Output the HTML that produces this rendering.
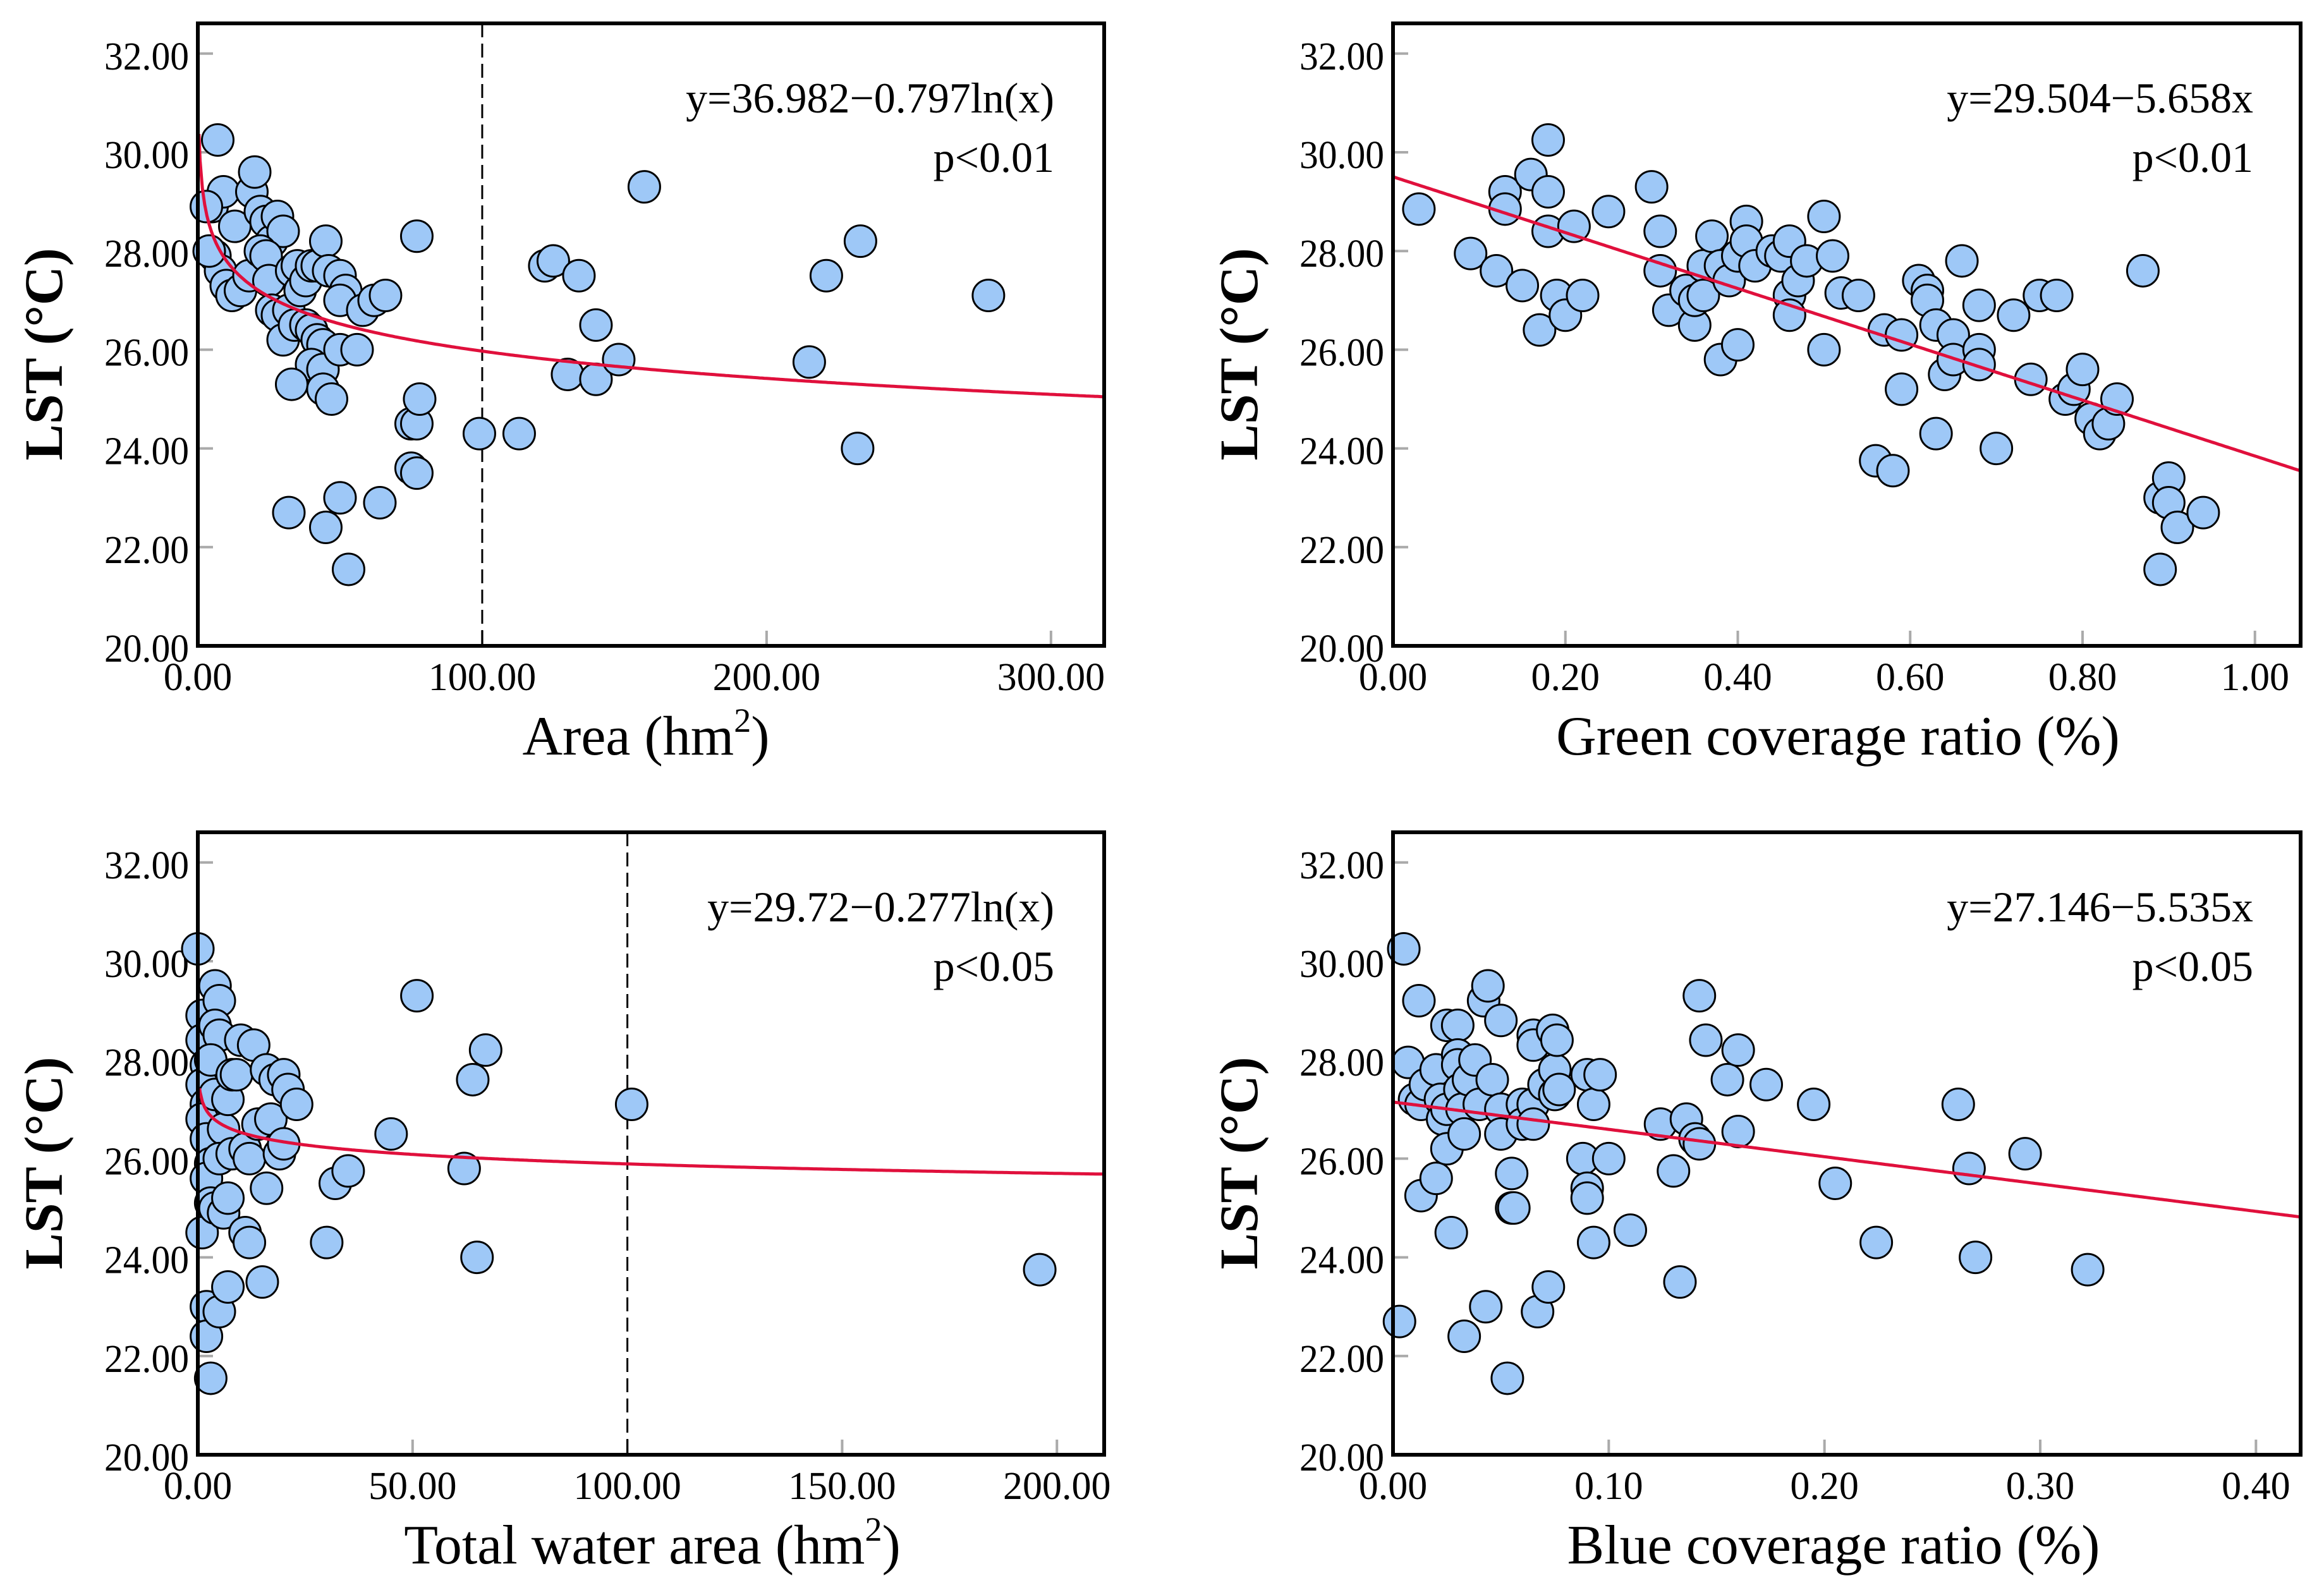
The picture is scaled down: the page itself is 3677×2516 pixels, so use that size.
<!DOCTYPE html>
<html><head><meta charset="utf-8">
<style>
html,body{margin:0;padding:0;background:#fff;}
svg{display:block;font-family:"Liberation Serif",serif;}
</style></head>
<body>
<svg id="fig" width="3677" height="2516" viewBox="0 0 3677 2516" xmlns="http://www.w3.org/2000/svg"></svg>
<script>
// ---- Data ----
const yTicks = [20,22,24,26,28,30,32];
const p1Ticks = [0,100,200,300];
const p2Ticks = [0,0.2,0.4,0.6,0.8,1.0];
const p3Ticks = [0,50,100,150,200];
const p4Ticks = [0,0.1,0.2,0.3,0.4];

const areaX = [7,5,9,13,6,8,10,12,15,18,19,20,22,24,26,28,30,22,24,25,26,28,30,32,33,35,36,38,40,42,45,46,50,52,50,34,38,40,42,44,40,44,33,44,47,50,56,58,62,66,77,75,77,78,75,77,64,50,32,45,53,99,113,122,125,134,140,130,140,148,157,215,221,233,232,278,3,4];
const areaY = [30.25,28.9,29.2,28.5,27.9,27.6,27.3,27.1,27.2,27.5,29.2,29.6,28.8,28.6,28.2,28.7,28.4,28.0,27.9,27.4,26.8,26.7,26.2,26.8,27.6,27.7,27.2,27.4,27.7,27.7,28.2,27.6,27.5,27.2,27.0,26.5,26.5,26.4,26.2,26.1,25.7,25.6,25.3,25.2,25.0,26.0,26.0,26.8,27.0,27.1,28.3,24.5,24.5,25.0,23.6,23.5,22.9,23.0,22.7,22.4,21.55,24.3,24.3,27.7,27.8,27.5,26.5,25.5,25.4,25.8,29.3,25.75,27.5,28.2,24.0,27.1,28.9,28.0];

const greenX = [0.03,0.09,0.12,0.13,0.13,0.15,0.16,0.17,0.18,0.18,0.18,0.19,0.2,0.21,0.22,0.25,0.3,0.31,0.31,0.32,0.34,0.35,0.35,0.36,0.36,0.37,0.38,0.38,0.39,0.4,0.4,0.41,0.41,0.42,0.44,0.45,0.46,0.46,0.46,0.47,0.48,0.5,0.5,0.51,0.52,0.54,0.56,0.57,0.58,0.59,0.59,0.61,0.62,0.62,0.63,0.63,0.64,0.65,0.65,0.66,0.68,0.68,0.68,0.7,0.72,0.74,0.75,0.77,0.78,0.79,0.8,0.81,0.82,0.83,0.84,0.87,0.89,0.9,0.9,0.91,0.89,0.94];
const greenY = [28.85,27.95,27.6,29.2,28.85,27.3,29.55,26.4,30.25,29.2,28.4,27.1,26.7,28.5,27.1,28.8,29.3,28.4,27.6,26.8,27.2,26.5,27.0,27.7,27.1,28.3,27.7,25.8,27.4,26.1,27.9,28.6,28.2,27.7,28.0,27.9,28.2,27.1,26.7,27.4,27.8,28.7,26.0,27.9,27.15,27.1,23.75,26.4,23.55,26.3,25.2,27.4,27.2,27.0,26.5,24.3,25.5,26.3,25.8,27.8,26.0,25.7,26.9,24.0,26.7,25.4,27.1,27.1,25.0,25.2,25.6,24.6,24.3,24.5,25.0,27.6,23.0,23.4,22.9,22.4,21.55,22.7];

const waterX = [0,1,1,2,1,2,1,2,3,2,3,1,2,2,3,4,5,4,5,3,4,6,5,4,6,5,7,7,8,7,8,9,10,11,11,12,12,13,14,15,16,16,17,18,19,20,20,21,23,30,32,35,45,51,62,64,65,67,101,196];
const waterY = [30.25,28.9,28.4,27.9,27.5,27.1,26.8,26.4,25.9,25.6,25.1,24.5,23.0,22.4,21.55,29.5,29.2,28.7,28.5,28.0,27.3,26.6,26.0,25.0,24.9,22.9,23.4,25.2,26.1,27.2,27.7,27.7,28.4,26.2,24.5,24.3,26.0,28.3,26.7,23.5,27.8,25.4,26.8,27.6,26.1,27.7,26.3,27.4,27.1,24.3,25.5,25.75,26.5,29.3,25.8,27.6,24.0,28.2,27.1,23.75];

const blueX = [0.003,0.005,0.007,0.01,0.012,0.013,0.013,0.015,0.02,0.02,0.022,0.023,0.025,0.025,0.025,0.027,0.03,0.03,0.03,0.031,0.032,0.033,0.033,0.035,0.038,0.04,0.042,0.044,0.046,0.043,0.05,0.05,0.05,0.055,0.055,0.056,0.053,0.06,0.06,0.065,0.065,0.065,0.065,0.07,0.067,0.072,0.074,0.075,0.075,0.076,0.077,0.088,0.09,0.09,0.09,0.093,0.093,0.096,0.1,0.11,0.124,0.13,0.133,0.136,0.14,0.142,0.145,0.142,0.155,0.16,0.16,0.173,0.195,0.205,0.224,0.262,0.267,0.27,0.293,0.322];
const blueY = [22.7,30.25,27.95,27.2,29.2,27.1,25.25,27.5,27.8,25.6,27.2,26.8,28.7,27.0,26.2,24.5,28.7,28.1,27.9,27.4,27.0,26.5,22.4,27.6,28.0,27.1,29.2,29.5,27.6,23.0,28.8,27.0,26.5,25.0,25.7,25.0,21.55,27.1,26.7,28.5,28.3,27.1,26.7,27.5,22.9,23.4,28.6,27.8,27.3,28.4,27.4,26.0,27.7,25.4,25.2,27.1,24.3,27.7,26.0,24.55,26.7,25.75,23.5,26.8,26.4,29.3,28.4,26.3,27.6,28.2,26.55,27.5,27.1,25.5,24.3,27.1,25.8,24.0,26.1,23.75];

// ---- Rendering ----
const NS="http://www.w3.org/2000/svg";
const svg=document.getElementById('fig');
function mk(tag,attrs,parent){const e=document.createElementNS(NS,tag);for(const k in attrs)e.setAttribute(k,attrs[k]);(parent||svg).appendChild(e);return e;}

function panel(o){
  const g=mk('g',{});
  
  
  const L=o.L,R=o.R,T=o.T,B=o.B;
  const yPx=v=>B-(v-20)*78.1;
  const xPx=v=>L+(v-o.xmin)/(o.xmax-o.xmin)*(R-L);
  yTicks.forEach(t=>{
    const y=yPx(t);
    if(t!==20){const tk=mk('line',{x1:L,x2:L+24,y1:y,y2:y,stroke:'#aaa','stroke-width':4},g);
    }
    const tx=mk('text',{x:L-14,y:y+25,'font-size':62,'text-anchor':'end',fill:'#000',textLength:134,lengthAdjust:'spacingAndGlyphs'},g);
    
    tx.textContent=t.toFixed(2);
  });
  o.xt.forEach(t=>{
    const x=xPx(t);
    if(t!==0){const tk=mk('line',{x1:x,x2:x,y1:B,y2:B-24,stroke:'#aaa','stroke-width':4},g);
    }
    const tx=mk('text',{x:x,y:B+70,'font-size':62,'text-anchor':'middle',fill:'#000'},g);
    
    tx.textContent=t.toFixed(2);
  });
  if(o.dash!==undefined){
    const d=mk('line',{x1:xPx(o.dash),x2:xPx(o.dash),y1:T,y2:B,stroke:'#000','stroke-width':3,'stroke-dasharray':'22,10'},g);
    
  }
  o.xs.forEach((v,i)=>{
    const c=mk('circle',{cx:xPx(v),cy:yPx(o.ys[i]),r:25,fill:'#9ec8f7',stroke:'#000','stroke-width':3},g);
    
  });
  let pts=[];
  const N=400;
  for(let i=0;i<=N;i++){
    let v=o.xmin+(o.xmax-o.xmin)*i/N;
    if(o.log&&v<0.4)v=0.4+ i*0.001;
    const y=o.f(v);
    let py=yPx(y); if(py<T)continue;
    pts.push(xPx(v).toFixed(1)+','+py.toFixed(1));
  }
  const fl=mk('polyline',{points:pts.join(' '),fill:'none',stroke:'#e0103c','stroke-width':5},g);
  
  const fr=mk('rect',{x:L,y:T,width:R-L,height:B-T,fill:'none',stroke:'#000','stroke-width':6},g);
  
  const e1=mk('text',{x:o.ex,y:T+141,'font-size':68,'text-anchor':'end'},g);
  
  e1.textContent=o.eq;
  const e2=mk('text',{x:o.ex,y:T+235,'font-size':68,'text-anchor':'end'},g);
  
  e2.textContent=o.p;
  const xt=mk('text',{x:o.xtc,y:B+172,'font-size':88,'text-anchor':'middle'},g);
  
  xt.innerHTML=o.xtitle;
  const yt=mk('text',{x:0,y:0,'font-size':86,'font-weight':'bold','text-anchor':'middle',transform:`translate(${L-215},${(T+B)/2+31}) rotate(-90)`},g);
  
  yt.textContent='LST (°C)';
}

panel({name:'panel-area',L:313,R:1747,T:37,B:1022,xmin:0,xmax:318.7,xt:p1Ticks,xs:areaX,ys:areaY,dash:100,log:true,
  f:v=>36.982-0.797*Math.log(v*10000),eq:'y=36.982−0.797ln(x)',p:'p<0.01',ex:1668,xtc:1022,
  xtitle:'Area (hm<tspan font-size="54" dy="-36">2</tspan><tspan dy="36">)</tspan>'});
panel({name:'panel-green',L:2204,R:3640,T:37,B:1022,xmin:0,xmax:1.053,xt:p2Ticks,xs:greenX,ys:greenY,
  f:v=>29.504-5.658*v,eq:'y=29.504−5.658x',p:'p<0.01',ex:3565,xtc:2908,xtitle:'Green coverage ratio (%)'});
panel({name:'panel-water',L:313,R:1747,T:1317,B:2302,xmin:0,xmax:211,xt:p3Ticks,xs:waterX,ys:waterY,dash:100,log:true,
  f:v=>29.72-0.277*Math.log(v*10000),eq:'y=29.72−0.277ln(x)',p:'p<0.05',ex:1668,xtc:1032,
  xtitle:'Total water area (hm<tspan font-size="54" dy="-36">2</tspan><tspan dy="36">)</tspan>'});
panel({name:'panel-blue',L:2204,R:3640,T:1317,B:2302,xmin:0,xmax:0.4207,xt:p4Ticks,xs:blueX,ys:blueY,
  f:v=>27.146-5.535*v,eq:'y=27.146−5.535x',p:'p<0.05',ex:3565,xtc:2901,xtitle:'Blue coverage ratio (%)'});
</script>
</body></html>
